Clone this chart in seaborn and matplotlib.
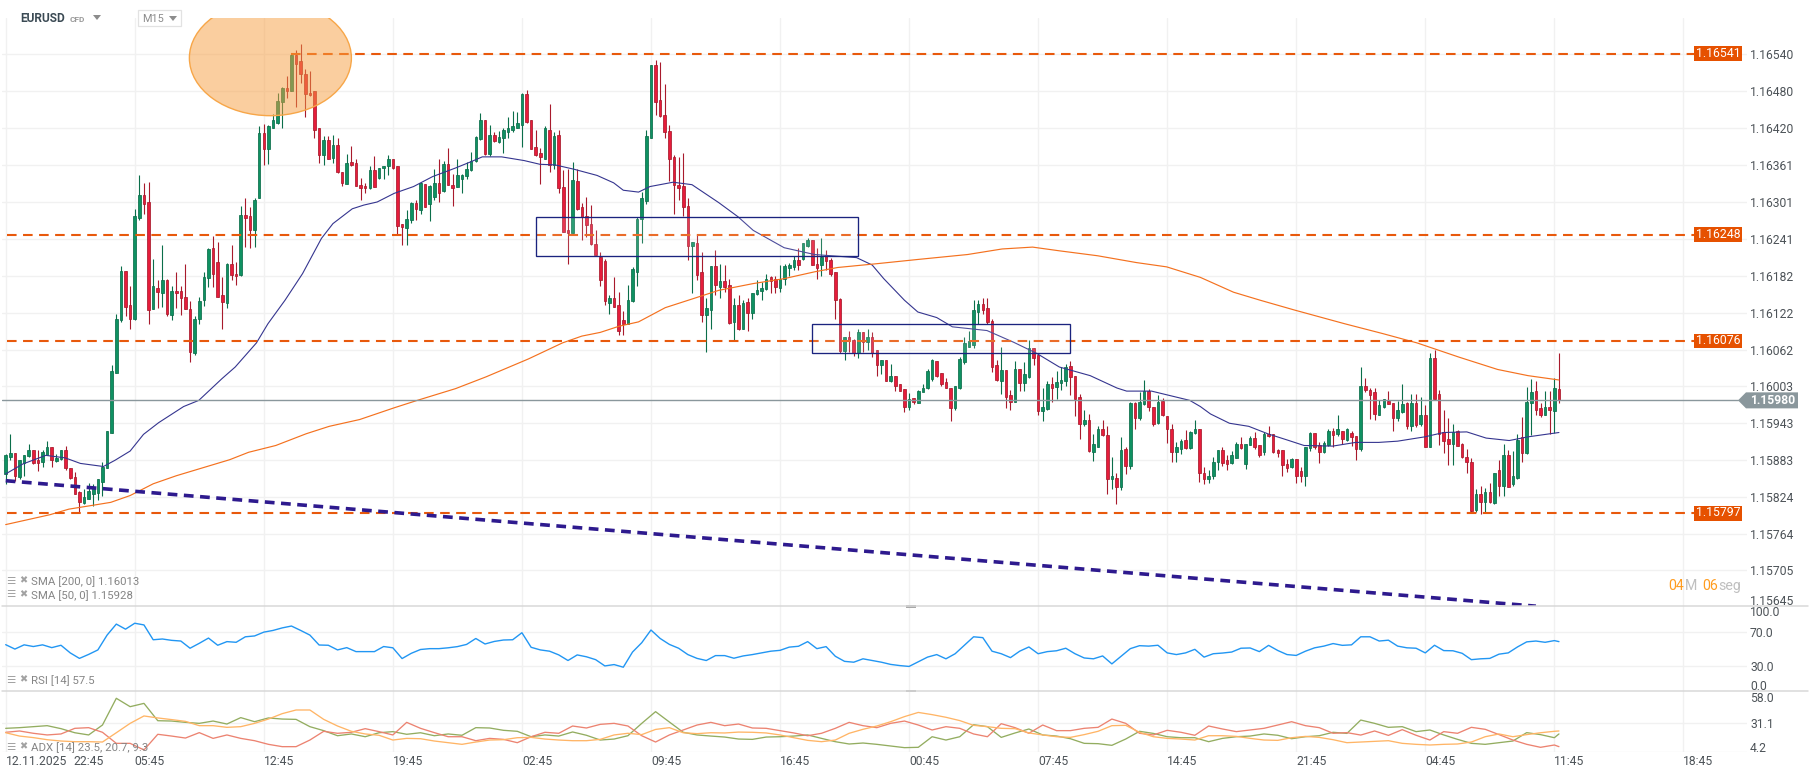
import numpy as np
import pandas as pd
import seaborn as sns
import matplotlib
matplotlib.use("Agg")
import matplotlib.pyplot as plt
from matplotlib.patches import Ellipse, Rectangle, Polygon

BASE = 1.15  # candle values below are points (1e-5) above this level
opens = [861,888,895,856,879,890,900,883,881,892,905,882,885,900,871,856,832,814,820,828,
830,848,871,928,1025,1110,1189,1134,1111,1275,1313,1301,1128,1162,1154,1175,1118,1157,1157,1147,
1128,1057,1111,1142,1178,1227,1204,1150,1138,1201,1185,1183,1280,1278,1255,1308,1412,1387,1421,1428,
1463,1486,1481,1539,1529,1508,1478,1480,1420,1377,1401,1372,1393,1350,1330,1365,1364,1328,1327,1323,
1353,1340,1356,1359,1371,1359,1266,1259,1272,1300,1288,1330,1297,1309,1332,1319,1362,1329,1326,1339,
1343,1352,1367,1403,1434,1379,1410,1398,1404,1415,1417,1421,1426,1476,1433,1390,1380,1371,1418,1361,
1409,1325,1255,1251,1335,1293,1278,1266,1233,1212,1205,1137,1146,1134,1110,1103,1140,1188,1274,1302,
1405,1523,1466,1442,1416,1374,1329,1327,1294,1229,1235,1187,1118,1126,1197,1164,1173,1167,1107,1134,
1095,1139,1121,1152,1157,1160,1179,1177,1162,1176,1194,1196,1207,1208,1230,1240,1201,1199,1215,1207,
1187,1144,1060,1083,1078,1057,1090,1075,1082,1062,1038,1045,1011,1019,1007,999,970,984,976,993,
1000,1014,1043,1024,1010,1000,968,1000,1042,1067,1069,1123,1136,1130,1109,1037,1011,1029,988,978,
1031,1008,1018,1065,1053,963,966,1007,1002,1008,1011,1035,1020,985,941,949,897,905,934,924,
852,855,840,901,874,975,952,974,995,969,944,979,955,934,896,901,916,903,928,934,
862,852,857,880,899,883,878,887,910,877,908,919,908,896,926,925,899,899,877,872,
885,866,857,903,928,907,897,908,931,925,931,916,928,922,901,1003,997,993,957,969,
979,976,952,961,975,938,975,941,956,904,1049,990,929,918,910,930,909,888,881,802,
828,815,831,814,868,842,892,844,854,921,895,975,995,967,957,970,962,998]
closes = [891,895,857,884,891,900,879,879,896,904,883,886,900,871,854,829,815,823,833,838,
852,873,931,1027,1111,1189,1131,1112,1278,1313,1298,1127,1165,1155,1175,1119,1157,1153,1145,1128,
1058,1112,1140,1180,1225,1184,1147,1139,1201,1183,1182,1280,1275,1255,1305,1412,1387,1424,1434,1464,
1485,1481,1539,1525,1508,1476,1474,1417,1377,1401,1371,1393,1349,1331,1364,1361,1327,1324,1323,1353,
1326,1356,1359,1371,1356,1262,1260,1274,1300,1290,1331,1293,1327,1332,1315,1362,1329,1324,1344,1344,
1355,1368,1406,1433,1379,1410,1400,1406,1418,1421,1424,1429,1476,1430,1387,1377,1373,1420,1361,1407,
1323,1253,1251,1336,1289,1277,1264,1233,1215,1175,1140,1146,1131,1093,1103,1143,1192,1274,1307,1408,
1523,1463,1440,1415,1371,1328,1324,1293,1229,1237,1183,1118,1129,1197,1166,1173,1164,1106,1134,1096,
1138,1121,1153,1159,1162,1177,1173,1164,1177,1198,1199,1207,1199,1234,1240,1199,1194,1212,1205,1185,
1142,1060,1083,1076,1057,1090,1075,1082,1056,1038,1045,1011,1019,1004,995,969,983,977,995,1000,
1027,1045,1020,1006,1000,968,1003,1047,1073,1076,1126,1136,1127,1107,1034,1013,1029,985,978,1031,
1008,1022,1065,1049,963,970,1007,1000,1009,1013,1034,1018,982,941,949,898,910,934,924,853,
857,840,900,874,975,952,977,995,969,942,978,956,934,896,904,915,903,929,934,862,
852,858,881,899,879,877,891,910,903,909,919,904,891,925,922,896,895,875,870,885,
857,857,905,928,904,897,911,930,924,933,917,933,920,901,1003,996,989,958,972,982,
974,952,964,974,938,975,940,956,905,1049,983,926,915,910,929,906,888,880,801,828,
815,831,815,863,842,892,840,857,916,895,978,993,964,957,970,964,1000,980]
highs = [894,925,895,884,892,910,900,899,899,914,905,893,900,906,871,864,834,837,847,845,
853,880,931,1038,1119,1198,1189,1165,1289,1344,1332,1333,1208,1174,1231,1177,1165,1188,1165,1200,
1140,1116,1148,1188,1227,1246,1236,1180,1202,1231,1204,1295,1308,1293,1307,1424,1427,1425,1444,1478,
1487,1505,1540,1547,1557,1516,1513,1480,1420,1408,1408,1409,1405,1350,1378,1391,1371,1340,1331,1360,
1375,1356,1359,1377,1371,1359,1266,1288,1301,1305,1334,1330,1328,1355,1371,1368,1388,1347,1371,1346,
1365,1382,1407,1445,1434,1425,1415,1416,1420,1439,1449,1447,1478,1482,1433,1418,1388,1424,1460,1415,
1418,1352,1355,1365,1355,1299,1309,1296,1256,1220,1208,1150,1180,1155,1124,1166,1196,1276,1317,1417,
1523,1531,1528,1492,1425,1377,1373,1380,1307,1237,1248,1220,1145,1197,1223,1201,1199,1177,1145,1150,
1142,1145,1154,1174,1172,1184,1182,1182,1199,1200,1202,1213,1226,1235,1242,1240,1226,1243,1223,1210,
1187,1145,1083,1093,1080,1095,1090,1096,1090,1062,1045,1045,1039,1019,1007,999,992,984,996,1007,
1030,1047,1043,1024,1017,1000,1004,1050,1082,1093,1142,1143,1145,1145,1112,1045,1067,1029,996,1043,
1031,1042,1077,1065,1053,1000,1012,1018,1027,1034,1039,1043,1020,991,965,958,926,938,949,939,
888,863,920,905,978,977,993,1013,999,969,988,984,955,941,912,918,932,930,949,934,
872,868,888,899,904,891,898,912,921,909,923,929,908,929,939,925,901,899,885,887,
885,872,905,929,928,912,915,934,935,956,931,935,931,922,1034,1017,1000,1000,980,983,
995,976,979,1007,977,991,991,986,972,1057,1061,996,964,952,942,932,911,902,886,836,
841,838,846,863,883,910,899,898,925,953,1002,1014,1011,975,995,995,1017,1056]
lows = [844,884,850,853,858,888,877,866,872,891,872,881,884,868,853,828,799,813,820,809,
818,825,870,927,1024,1107,1116,1095,1110,1272,1282,1104,1128,1130,1131,1117,1110,1130,1118,1128,
1042,1053,1103,1132,1164,1164,1147,1096,1130,1174,1166,1182,1228,1227,1228,1307,1361,1362,1420,1427,
1421,1470,1481,1454,1493,1438,1472,1404,1364,1361,1371,1364,1348,1327,1330,1360,1327,1305,1315,1322,
1326,1339,1339,1344,1354,1247,1231,1231,1267,1272,1282,1293,1270,1304,1301,1317,1329,1295,1325,1316,
1339,1351,1366,1402,1377,1375,1398,1397,1380,1404,1415,1420,1390,1429,1387,1375,1330,1370,1350,1355,
1316,1253,1200,1251,1288,1239,1245,1231,1215,1165,1135,1120,1131,1086,1086,1103,1139,1165,1235,1298,
1404,1442,1439,1404,1335,1282,1304,1278,1207,1153,1175,1107,1058,1096,1150,1145,1155,1104,1076,1094,
1095,1093,1111,1150,1142,1159,1154,1154,1155,1166,1181,1191,1191,1207,1228,1199,1177,1182,1191,1182,
1112,1056,1046,1058,1051,1049,1058,1061,1050,1019,1022,1011,1010,995,995,961,964,974,975,1000,
999,1012,1018,1003,1000,947,965,999,1039,1066,1064,1103,1120,1104,1026,1012,991,968,965,977,
995,995,1017,1038,957,947,965,977,982,997,1004,988,955,917,939,896,882,904,923,829,
837,813,835,861,869,934,949,972,963,939,942,955,911,880,881,893,902,901,926,848,
845,846,852,867,874,868,877,887,902,869,907,901,888,891,921,895,888,858,864,870,
847,848,842,898,902,878,895,906,904,923,910,915,906,884,898,993,950,949,956,968,
974,930,947,959,934,931,937,939,905,904,982,907,895,876,875,906,887,863,798,799,
796,798,814,813,826,826,840,841,853,880,894,924,956,953,956,925,927,976]

sma50_idx = [0,3.7,8.7,12.9,16.2,21.2,23.7,27,29.9,33.2,38.6,41.9,46.9,49.8,54.4,56.9,60.6,64.4,68.5,71,75.2,77.7,80.6,84.3,88.5,92.6,97.6,100.9,103.4,107.6,112.5,115.9,119.2,123.3,128.3,131.9,134,137.3,139.8,144.8,148.9,154.7,158.9,162.2,168.9,175.5,184.6,188,190.5,195,197.9,202,205.4,212.9,218.7,223.7,228.6,235.3,241.1,243.2,248.6,256.9,259.2,261.4,265.5,269.7,273.8,278,281.7,287.9,292.9,297.9,302,307.9,312,317,321.2,326.2,330.3,337]
sma50_val = [861,877,891,887,878,873,883,898,925,944,970,980,1015,1034,1073,1104,1142,1185,1242,1266,1290,1296,1301,1315,1326,1342,1356,1366,1374,1374,1368,1362,1361,1354,1344,1332,1320,1317,1326,1333,1329,1300,1277,1255,1227,1216,1211,1199,1177,1142,1123,1114,1099,1093,1074,1056,1034,1020,1000,995,995,980,970,958,943,938,926,916,907,906,912,912,914,921,928,929,919,915,921,928]
sma200_idx = [0,9.6,13.7,18.7,22.8,27,32,37,41.9,48.6,52.7,58.6,65.2,70.2,76.8,84.3,89.3,97.6,104.2,113.4,120.8,125,129,133.1,137.3,143.1,148.5,154.7,162.2,168.9,175.5,180.5,188.8,197.9,208.7,216.2,222.8,228.6,236.9,245.3,251.9,259.2,266.4,272.2,279.7,290.5,298.8,306.2,315.3,323.7,330.3,337]
sma200_val = [779,795,804,810,815,826,845,858,869,884,896,907,926,938,949,968,980,999,1018,1047,1073,1084,1090,1100,1107,1130,1143,1158,1169,1177,1188,1195,1201,1208,1216,1225,1228,1222,1214,1203,1196,1179,1155,1142,1126,1104,1088,1073,1050,1030,1020,1013]

rsi_values = [54.7,49.5,54.5,52.5,54.5,51.2,54,45,38.5,43.2,48.5,66,79,73,80,78,60.5,61.4,59.8,59,50.5,56.3,62.5,54,58.3,57.5,64,65,69.5,71.5,74.5,76.7,71.5,66,54.3,54,48.5,51.2,46.5,46.5,46.5,52.5,51,38.3,44.5,49,50,50,51,52.4,55,62,55.5,58.5,60.2,60.5,68.8,51.6,48.5,47,42.6,36,42.6,40.4,37,
29.6,31.2,28.1,46,57,72,62,55,50.5,43,38.5,36,41.8,41.8,38.7,41.4,43,45,47,48,51.8,52.8,58.3,50,52.4,41,35,34,38,36,34,31.4,30,29,34.5,40,43,38,44,54,64,63,47,44,39.4,47,52,44,46.5,47.5,50.5,44,39,38,41.4,32,41,50,53.5,53,54,45,43,45,49.2,
40,44,44.8,46,50.5,50.8,46.5,53.9,47.8,43,42,47,51,53,56,53.9,54.5,64,64,59,60,53,51,50.5,45,54,47.7,47.5,44.5,37,38,38.5,43.5,45,52,58,59,57.5,59.5,58.3]
plus_di = [26,26.6,27.5,28.4,25.7,22,20,29,53.2,45.6,48.6,32.9,32.6,31.4,30.5,32.6,29.9,35.7,32,35.4,34.4,34.1,27.5,23.9,19.3,20.9,18.4,22,23,20.6,22,19.3,20.9,19.7,26.6,26.3,24.2,23.3,18.4,20,19,22.7,19.7,15.4,
16.3,19.3,30.5,41.1,31.7,22.4,20,19,18.1,16.3,16,18.1,18.4,19,20,16.9,13.9,11.8,12.7,11.5,10,8.5,8.8,18.4,15.4,18.4,29.3,27.5,17.8,21.8,25.4,20,19,16.6,12.4,12.1,10.6,16.3,23.3,21.4,18.4,17.5,17.5,
13.9,16.9,18.4,19,20.9,19.7,16.6,18.4,19.3,22.4,21.4,33.5,30.5,26.9,27.5,23,24.5,20,16,12.4,11.5,13,14.5,22.1,20.3,17.5,20.9]
minus_di = [22.4,23.6,21.5,20,20.9,26,26.6,22.4,12.4,12.4,6.4,20.6,19,17.2,22.1,16.9,20,16.9,14.8,11.5,9.4,9.4,15.4,23.3,21.5,22.4,25.7,23,20,31.4,26,22.1,18.4,18.4,14.8,16.9,16,13,18.4,22.4,21.5,28.1,26.3,29.6,
30.5,28.1,19.3,13.6,20,24.5,29,31.4,28.4,29.9,26.3,26,23.9,21.8,19.3,21.5,26,31.4,28.4,26.6,30.5,32.6,29,24.5,27.5,26,20.9,18.4,30.2,26.6,21.5,29,23.9,23.9,26,26.9,34.4,30.5,21.5,20,24.2,22.4,19.7,
28.1,25.4,23,24.5,26,29,32,28.4,26.6,21.5,22.1,19.9,23.6,19.6,24.8,19.7,15.4,23,21.5,26.9,25.1,20.3,15.4,11.5,8.8,10.9,9.4]
adx_values = [22,19,17.6,15.7,14.5,13.9,13.9,13.6,22,30.5,37.2,35.4,33.9,32.3,28.4,28.4,26.9,27.5,30.5,34.4,39.3,42.6,42.6,34.1,28.1,23.3,20.9,19.7,15.4,16.9,16.6,14.5,13,11.5,13.6,15.4,15.7,17.5,17.8,16.3,15.4,14.8,14.8,16,
20,21.5,20.3,25,26.6,22,21.2,22,21.8,22.6,22.4,21.8,20,17.5,15.1,13.9,15.4,21.5,25.1,28.1,32,36.6,40.4,38.4,36,33,28.7,27.5,26,25.7,21.8,20,18.4,17.8,20.3,23.3,28.4,28.7,22.4,18.4,16.9,16.3,15.4,
19.3,19.3,18.7,16.9,15.4,15.1,17.5,18.7,17.8,15.7,13,13.6,14.2,14.8,12.4,11.5,10.9,11.5,11.8,13.6,18.4,20.9,18.4,20.3,22,23.3,23.6]

price_ticks = [1.16540,1.16480,1.16420,1.16361,1.16301,1.16241,1.16182,1.16122,1.16062,1.16003,1.15943,1.15883,1.15824,1.15764,1.15705]
price_tick_labels = ["1.16540","1.16480","1.16420","1.16361","1.16301","1.16241","1.16182","1.16122","1.16062","1.16003","1.15943","1.15883","1.15824","1.15764","1.15705"]
levels = [1.16248, 1.16076, 1.15797]
top_level = 1.16541
level_labels = ["1.16541", "1.16248", "1.16076", "1.15797"]
last_price = 1.15980
trend_idx = [0, 332]
trend_val = [850, 647]
time_ticks = [0,28,56,84,112,140,168,196,224,252,280,308,336,364]
time_labels = ["12.11.2025","05:45","12:45","19:45","02:45","09:45","16:45","00:45","07:45","14:45","21:45","04:45","11:45","18:45"]

W, H = 1810, 779
sns.set_theme(style="white")
plt.rcParams['font.family'] = ['Roboto', 'DejaVu Sans']
fig = plt.figure(figsize=(W/100, H/100), dpi=100, facecolor="white")

def axes_px(l, t, r, b):
    return fig.add_axes([l/W, 1-b/H, (r-l)/W, (b-t)/H])
def fx(x): return x/W
def fy(y): return 1-y/H
def ftext(x, y, s, **kw):
    kw.setdefault("va", "center"); kw.setdefault("ha", "left")
    return fig.text(fx(x), fy(y), s, **kw)

XLIM = (-0.8, 377.8)
GRID = "#f1f1f1"; TICKC = "#4d5358"; FS = 8.7
ax = axes_px(2, 18, 1747, 606.3)
ax_rsi = axes_px(2, 606.3, 1747, 691)
ax_adx = axes_px(2, 691, 1747, 752.4)
for a in (ax, ax_rsi, ax_adx):
    a.set_xlim(*XLIM)
    a.set_facecolor("none")
    for s in a.spines.values(): s.set_visible(False)
    a.set_xticks(time_ticks)
    a.grid(True, color=GRID, lw=1)
    a.set_axisbelow(True)
    a.yaxis.tick_right()
    a.tick_params(axis="both", length=0, pad=2.2, labelsize=FS, labelcolor=TICKC)
    a.set_xlabel(""); a.set_ylabel("")
    a.tick_params(axis="x", labelbottom=False)

# candles
o = BASE + np.array(opens)/1e5; c = BASE + np.array(closes)/1e5
h = BASE + np.array(highs)/1e5; l = BASE + np.array(lows)/1e5
idx = np.arange(len(o))
up = c >= o
GREEN, GREEN_E = "#0f9162", "#0b6e4a"
RED, RED_E = "#e61c3b", "#a81a2c"
ax.vlines(idx[up], l[up], h[up], color=GREEN_E, lw=0.8, zorder=3)
ax.vlines(idx[~up], l[~up], h[~up], color=RED_E, lw=0.8, zorder=3)
ax.bar(idx[up], (c-o)[up], bottom=o[up], width=0.56, color=GREEN, edgecolor=GREEN_E, lw=0.55, zorder=4)
ax.bar(idx[~up], (o-c)[~up], bottom=c[~up], width=0.56, color=RED, edgecolor=RED_E, lw=0.55, zorder=4)

# moving averages
d50 = pd.DataFrame({"i": sma50_idx, "v": BASE + np.array(sma50_val)/1e5})
d200 = pd.DataFrame({"i": sma200_idx, "v": BASE + np.array(sma200_val)/1e5})
sns.lineplot(data=d50, x="i", y="v", ax=ax, color="#35358f", lw=0.8, estimator=None, sort=False, zorder=5)
sns.lineplot(data=d200, x="i", y="v", ax=ax, color="#f4711f", lw=0.85, estimator=None, sort=False, zorder=5)

# levels
def i_of(px): return (px-5.7)/4.609
LVL = "#e8590c"
ax.plot([62, i_of(1694)], [top_level]*2, color=LVL, lw=1.5, ls=(0,(4.6,3.1)), dash_capstyle="butt", zorder=6)
for v in levels:
    ax.plot([i_of(7), i_of(1694)], [v, v], color=LVL, lw=1.5, ls=(0,(4.6,3.1)), dash_capstyle="butt", zorder=6)
ax.plot(trend_idx, [BASE+v/1e5 for v in trend_val], color="#2e1a8e", lw=2.6, ls=(0,(2.7,1.8)), dash_capstyle="butt", zorder=6)
ax.plot([XLIM[0], i_of(1738)], [last_price]*2, color="#8a979c", lw=1.0, zorder=7)

# shapes
YP = lambda p: BASE + p/1e5
for (x0, x1, p0, p1) in [(115.0, 185.0, 1214, 1276), (175.0, 231.0, 1056, 1103)]:
    ax.add_patch(Rectangle((x0, YP(p0)), x1-x0, YP(p1)-YP(p0), fc=(0.985,0.985,0.985,0.12), ec="#1a237e", lw=0.95, zorder=8))
ax.add_patch(Ellipse((i_of(270.4), YP(1540-(58-54.3)/0.618)), 162/4.609, 115.4/61796,
                     fc=(0.97,0.62,0.25,0.5), ec="#f7a648", lw=1.0, zorder=9))

ax.set_ylim(YP(646.8), YP(1598.7))
ax.set_yticks(price_ticks); ax.set_yticklabels(price_tick_labels)

# RSI
rsi_x = list(range(0, 337, 2)) + [337]
sns.lineplot(x=rsi_x, y=rsi_values, ax=ax_rsi, color="#2196f3", lw=1.0, estimator=None, sort=False)
ax_rsi.set_ylim(0, 100); ax_rsi.set_yticks([30, 70]); ax_rsi.set_yticklabels(["30.0", "70.0"])

# ADX
adx_x = list(range(0, 337, 3)) + [337]
adx_df = pd.DataFrame({"i": adx_x, "+DI": plus_di, "-DI": minus_di, "ADX": adx_values})
for col, colr in [("+DI", "#93ad60"), ("-DI", "#ec8371"), ("ADX", "#ffb566")]:
    sns.lineplot(data=adx_df, x="i", y=col, ax=ax_adx, color=colr, lw=0.95, estimator=None, sort=False)
ax_adx.set_ylim(4.2, 59.8); ax_adx.set_yticks([4.2, 31.1]); ax_adx.set_yticklabels(["", "31.1"])
ax_adx.set_xlabel(""); ax_adx.set_ylabel(""); ax_rsi.set_xlabel(""); ax_rsi.set_ylabel(""); ax.set_xlabel(""); ax.set_ylabel("")
ax_adx.tick_params(axis="x", labelbottom=True, pad=2.2)
ax_adx.set_xticklabels(time_labels, ha="left")

# clamped tick labels
for y, s in [(601.7, "1.15645"), (613, "100.0"), (686.7, "0.0"), (699, "58.0"), (748, "4.2")]:
    ftext(1750, y, s, fontsize=FS, color=TICKC)
ftext(73.5, 761.7, "22:45", fontsize=FS, color=TICKC)

# panel borders and handles
for y in (606.3, 691):
    fig.add_artist(plt.Line2D([fx(2), fx(1808)], [fy(y)]*2, color="#d8d8d8", lw=1.1))
    fig.add_artist(Rectangle((fx(906), fy(y+1.3)), 10/W, 2.6/H, fc="#a8a8a8", ec="none", transform=fig.transFigure))

# level tags
for v, s in zip([top_level]+levels, level_labels):
    yy = 54.3 + (1.16540 - v)*61796
    fig.add_artist(Rectangle((fx(1694), fy(yy+7.4)), 48/W, 14.8/H, fc="#e65100", ec="none", transform=fig.transFigure))
    ftext(1718, yy-0.5, s, fontsize=8.8, color="white", ha="center")

# current price tag
yy = 54.3 + (1.16540 - last_price)*61796
pts = [(1738, yy), (1746, yy-8), (1798, yy-8), (1798, yy+8), (1746, yy+8)]
fig.add_artist(Polygon([(fx(x), fy(y)) for x, y in pts], fc="#8a979c", ec="none", transform=fig.transFigure))
ftext(1750, yy, "1.15980", fontsize=FS, color="white", fontweight="bold")

# countdown
for x, s, colr in [(1668, "04", "#ff9c1f"), (1684.5, "M", "#bfbfbf"), (1701.8, "06", "#ff9c1f"), (1718, "seg", "#bfbfbf")]:
    ftext(x, 586, s, fontsize=10.2, color=colr)

# header
ftext(20, 19, "EURUSD", fontsize=8.6, color="#3b4a54", fontweight="bold")
ftext(70, 19.5, "CFD", fontsize=6, color="#9a9a9a", fontweight="bold")
fig.add_artist(Polygon([(fx(93), fy(15)), (fx(101), fy(15)), (fx(97), fy(20))], fc="#8c8c8c", ec="none", transform=fig.transFigure))
fig.add_artist(Rectangle((fx(137.5), fy(25.7)), 43.5/W, 15.5/H, fc="white", ec="#e2e2e2", lw=0.9, transform=fig.transFigure))
ftext(142.5, 18.6, "M15", fontsize=7.8, color="#8c8c8c")
fig.add_artist(Polygon([(fx(169), fy(16)), (fx(177), fy(16)), (fx(173), fy(21))], fc="#8c8c8c", ec="none", transform=fig.transFigure))

# indicator legends
LEG = "#858585"
for y, s in [(581.7, "SMA [200, 0] 1.16013"), (595.3, "SMA [50, 0] 1.15928"), (680.7, "RSI [14] 57.5"), (747.7, "ADX [14] 23.5, 20.7, 9.3")]:
    ftext(31, y, s, fontsize=8.2, color=LEG)
    ftext(6, y-1, "\u2630", fontsize=7.5, color="#a2a2a2", family=["DejaVu Sans"])
    ftext(19.5, y-1, "\u2716", fontsize=7, color="#a2a2a2", family=["DejaVu Sans"])

fig.savefig("out.png", dpi=100, facecolor="white")
